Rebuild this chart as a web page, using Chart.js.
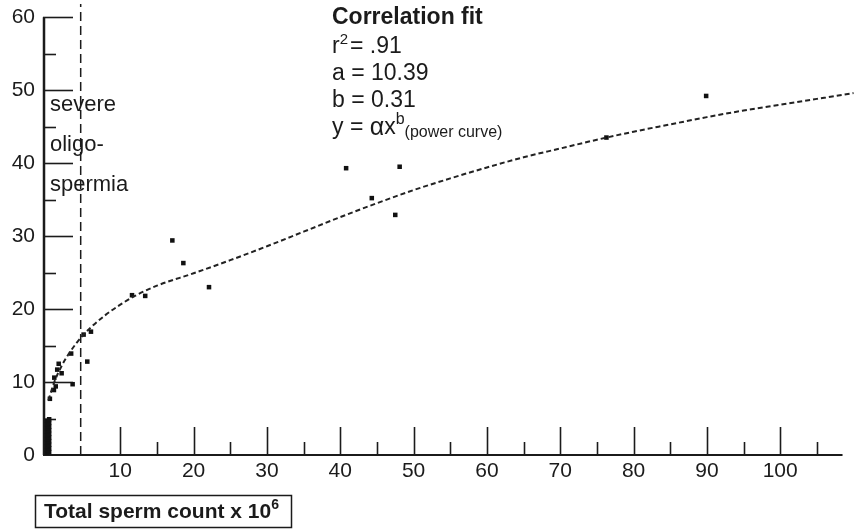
<!DOCTYPE html>
<html>
<head>
<meta charset="utf-8">
<script src="https://cdn.jsdelivr.net/npm/chart.js@4.4.1/dist/chart.umd.min.js"></script>
<style>
  html, body { margin: 0; padding: 0; background: #fff; }
  #wrap { position: relative; width: 859px; height: 530px; }
</style>
</head>
<body>
<div id="wrap"><canvas id="fitChart" width="859" height="530"></canvas></div>
<script>
// Sperm count vs. value, with power curve fit

const pointX = [0, 0.3, 0, 0.3, 0, 0.3, 0, 0.3, 0, 0.3, 0, 0.3, 0, 0.3, 0, 0.3, 0, 0.3, 0, 0.3,
    0.4, 0.95, 1.2, 3.5, 1.0, 1.4, 2.0, 1.6, 3.3, 5.5, 5.0, 6.0,
    11.6, 13.4, 17.1, 18.6, 22.1, 40.8, 44.3, 47.5, 48.1, 76.3, 89.9];
const pointY = [0.2, 0.4, 0.7, 0.9, 1.2, 1.4, 1.7, 1.9, 2.2, 2.4, 2.7, 2.9, 3.2, 3.4, 3.7, 3.9, 4.2, 4.4, 4.7, 4.9,
    7.7, 8.9, 9.4, 9.7, 10.6, 11.7, 11.2, 12.5, 13.9, 12.8, 16.5, 16.9,
    21.9, 21.8, 29.4, 26.3, 23.0, 39.3, 35.2, 32.9, 39.5, 43.5, 49.2];

const curveX = [0.2, 1, 2, 3, 4, 5, 6, 8, 10, 12, 15, 20, 25, 30, 35, 40, 45,
    50, 55, 60, 65, 70, 75, 80, 85, 90, 95, 100, 105, 110];
const curveY = [7.5, 10.0, 12.2, 13.9, 15.3, 16.5, 17.5, 19.2, 20.6, 21.8, 23.2,
    24.9, 26.7, 28.6, 30.6, 32.6, 34.5, 36.3, 37.9, 39.4, 40.8, 42.0, 43.2,
    44.3, 45.3, 46.3, 47.2, 48.0, 48.8, 49.6];

const thresholdX = [4.6, 4.6];
const thresholdY = [0, 61.8];

const xTickLabels = [10, 20, 30, 40, 50, 60, 70, 80, 90, 100];
const xMinorTicks = [15, 25, 35, 45, 55, 65, 75, 85, 95, 105];
const yTickLabels = [0, 10, 20, 30, 40, 50, 60];
const yMinorTicks = [5, 15, 25, 35, 45, 55];

const fitTitle = 'Correlation fit';
const fitLines = ['= .91', 'a = 10.39', 'b = 0.31'];
const zoneLines = ['severe', 'oligo-', 'spermia'];
const xAxisTitle = 'Total sperm count x 10';

const FONT = 'Arial, "Liberation Sans", Helvetica, sans-serif';
const INK = '#1b1b1b';

function drawRuns(ctx, x, y, runs) {
    runs.forEach(r => {
        ctx.font = `${r.weight || 'normal'} ${r.size}px ${FONT}`;
        ctx.fillText(r.text, x, y + (r.dy || 0));
        x += ctx.measureText(r.text).width + (r.gap || 0);
    });
    return x;
}

// axis lines and inward ticks, drawn from the chart's own scales
const axisFrame = {
    id: 'axisFrame',
    beforeDatasetsDraw(chart) {
        const { ctx, scales: { x, y } } = chart;
        const x0 = x.getPixelForValue(x.min);
        const y0 = y.getPixelForValue(0);
        ctx.save();
        ctx.strokeStyle = INK;
        ctx.lineWidth = 2.5;
        ctx.beginPath();
        ctx.moveTo(x0 + 1, y.getPixelForValue(60));
        ctx.lineTo(x0 + 1, y0);
        ctx.stroke();
        ctx.lineWidth = 2;
        ctx.beginPath();
        ctx.moveTo(x0, y0);
        ctx.lineTo(x.getPixelForValue(108.5), y0);
        ctx.stroke();

        ctx.lineWidth = 1.6;
        yTickLabels.slice(1).forEach(v => {
            const py = Math.round(y.getPixelForValue(v)) + 0.5;
            ctx.beginPath(); ctx.moveTo(x0, py); ctx.lineTo(x0 + 30, py); ctx.stroke();
        });
        yMinorTicks.forEach(v => {
            const py = Math.round(y.getPixelForValue(v)) + 0.5;
            ctx.beginPath(); ctx.moveTo(x0, py); ctx.lineTo(x0 + 13, py); ctx.stroke();
        });
        xTickLabels.forEach(v => {
            const px = Math.round(x.getPixelForValue(v)) + 0.5;
            ctx.beginPath(); ctx.moveTo(px, y0); ctx.lineTo(px, y0 - 28); ctx.stroke();
        });
        xMinorTicks.forEach(v => {
            const px = Math.round(x.getPixelForValue(v)) + 0.5;
            ctx.beginPath(); ctx.moveTo(px, y0); ctx.lineTo(px, y0 - 13); ctx.stroke();
        });
        ctx.restore();
    },
    afterDraw(chart) {
        const { ctx } = chart;
        ctx.save();
        ctx.fillStyle = INK;
        ctx.textBaseline = 'middle';

        // fit box text
        drawRuns(ctx, 332, 18, [{ text: fitTitle, size: 23, weight: 'bold' }]);
        drawRuns(ctx, 332, 47, [
            { text: 'r', size: 23 },
            { text: '2', size: 15, dy: -7, gap: 2 },
            { text: fitLines[0], size: 23 }
        ]);
        drawRuns(ctx, 332, 74, [{ text: fitLines[1], size: 23 }]);
        drawRuns(ctx, 332, 101, [{ text: fitLines[2], size: 23 }]);
        drawRuns(ctx, 332, 128, [
            { text: 'y = ', size: 23 },
            { text: '\u03b1', size: 25 },
            { text: 'x', size: 23 },
            { text: 'b', size: 16, dy: -8 },
            { text: '(power curve)', size: 16, dy: 5 }
        ]);

        // severe oligospermia label
        zoneLines.forEach((t, i) => {
            drawRuns(ctx, 50, 105 + i * 40, [{ text: t, size: 22 }]);
        });

        // x axis title in a box
        ctx.strokeStyle = INK;
        ctx.lineWidth = 1.5;
        ctx.strokeRect(35.5, 495.5, 256, 32);
        drawRuns(ctx, 44, 512, [
            { text: xAxisTitle, size: 21, weight: 'bold' },
            { text: '6', size: 14, weight: 'bold', dy: -7 }
        ]);
        ctx.restore();
    }
};

const ctx = document.getElementById('fitChart').getContext('2d');
new Chart(ctx, {
    type: 'scatter',
    data: {
        datasets: [
            {
                label: 'Severe oligospermia limit',
                data: thresholdX.map((x, i) => ({ x, y: thresholdY[i] })),
                showLine: true,
                borderColor: INK,
                borderWidth: 1.5,
                borderDash: [9, 5],
                pointRadius: 0
            },
            {
                label: 'Power curve',
                data: curveX.map((x, i) => ({ x, y: curveY[i] })),
                showLine: true,
                borderColor: '#222',
                borderWidth: 2,
                borderDash: [5, 3],
                cubicInterpolationMode: 'monotone',
                pointRadius: 0
            },
            {
                label: 'Patients',
                data: pointX.map((x, i) => ({ x, y: pointY[i] })),
                pointStyle: 'rect',
                pointRadius: 3.2,
                backgroundColor: '#111',
                borderWidth: 0
            }
        ]
    },
    options: {
        responsive: false,
        animation: false,
        layout: { padding: 0 },
        plugins: {
            legend: { display: false },
            tooltip: { enabled: false }
        },
        scales: {
            x: {
                type: 'linear',
                min: -0.54,
                max: 110.2,
                grid: { display: false, drawTicks: false },
                border: { display: false },
                ticks: {
                    stepSize: 5,
                    includeBounds: false,
                    autoSkip: false,
                    maxRotation: 0,
                    padding: 4,
                    color: INK,
                    font: { family: FONT, size: 21 },
                    callback: v => xTickLabels.includes(v) ? String(v) : ''
                },
                afterFit: s => {
                    s.height = 75;
                    s.paddingLeft = 0;
                    s.paddingRight = 0;
                }
            },
            y: {
                min: 0,
                max: 61.8,
                grid: { display: false, drawTicks: false },
                border: { display: false },
                ticks: {
                    stepSize: 5,
                    includeBounds: false,
                    autoSkip: false,
                    padding: 8,
                    color: INK,
                    font: { family: FONT, size: 21 },
                    callback: v => yTickLabels.includes(v) ? String(v) : ''
                },
                afterFit: s => {
                    s.width = 43;
                    s.paddingTop = 0;
                    s.paddingBottom = 0;
                }
            }
        }
    },
    plugins: [axisFrame]
});
</script>
</body>
</html>
